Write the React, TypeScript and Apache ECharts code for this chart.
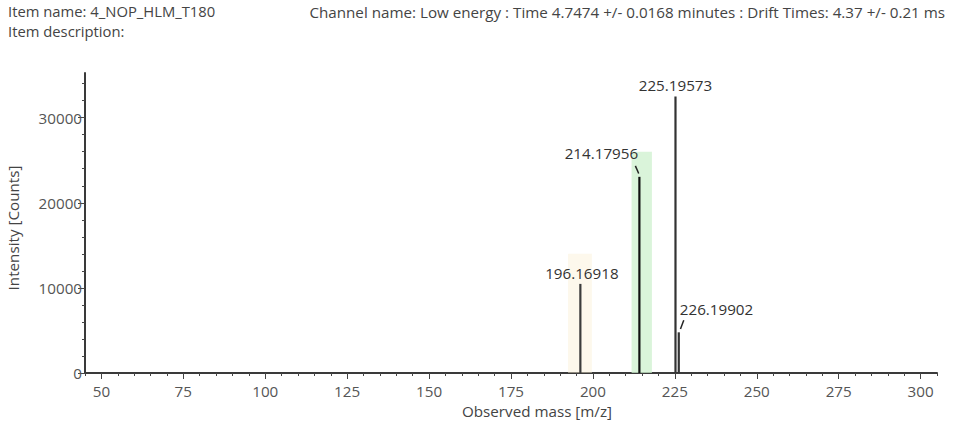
import React, { useEffect, useRef } from "react";
import * as echarts from "echarts";

const peakMz = [196.16918, 214.17956, 225.19573, 226.19902];
const peakIntensity = [10470, 23050, 32500, 4780];
const peakLabels = ["196.16918", "214.17956", "225.19573", "226.19902"];

const bandFrom = [192.4, 211.8];
const bandTo = [199.7, 218.0];
const bandTop = [14000, 26000];

const xMajorTicks = [50, 75, 100, 125, 150, 175, 200, 225, 250, 275, 300];
const xMinorTicks = [45, 55, 60, 65, 70, 80, 85, 90, 95, 105, 110, 115, 120, 130, 135, 140, 145, 155, 160, 165, 170, 180, 185, 190, 195, 205, 210, 215, 220, 230, 235, 240, 245, 255, 260, 265, 270, 280, 285, 290, 295, 305];
const yMajorTicks = [0, 10000, 20000, 30000];
const yMinorTicks = [2000, 4000, 6000, 8000, 12000, 14000, 16000, 18000, 22000, 24000, 26000, 28000, 32000, 34000];

const headerLeft1 = "Item name: 4_NOP_HLM_T180";
const headerLeft2 = "Item description:";
const headerRight = "Channel name: Low energy : Time 4.7474 +/- 0.0168 minutes : Drift Times: 4.37 +/- 0.21 ms";

const FONT = "Open Sans";
const FS = 15.2;
const HFS = 14.8;
const X_MIN = 45;
const X_MAX = 305;
const Y_MAX = 35250;

// label placement styles per peak
const labelStyle = [
  { dx: 1.5, dy: -11, align: "center", leader: null },
  { dx: -38, dy: -24, align: "center", leader: [-4, -11, -0.7, -3.4] },
  { dx: 0, dy: -11, align: "center", leader: null },
  { dx: 1, dy: -23, align: "left", leader: [5, -12, 1.7, -3.4] },
];
const barColors = ["#3c3c3c", "#111111", "#333333", "#333333"];
const bandColors = ["rgba(250,240,212,0.45)", "rgba(205,240,205,0.75)"];

export default function App() {
  const ref = useRef<HTMLDivElement>(null);
  useEffect(() => {
    if (!ref.current) return;
    const chart = echarts.init(ref.current, null, { renderer: "svg" });
    const peakData = peakMz.map((m, i) => [m, peakIntensity[i], i]);
    const bandData = bandFrom.map((f, i) => [f, bandTo[i], bandTop[i], i]);
    const axisCommon = {
      type: "value",
      min: X_MIN,
      max: X_MAX,
      splitLine: { show: false },
    };
    chart.setOption({
      animation: false,
      grid: { left: 85, right: 24, top: 73, bottom: 52, containLabel: false, outerBoundsMode: "none" },
      graphic: [
        { type: "text", left: 8, top: 3, style: { text: headerLeft1, font: `${HFS}px '${FONT}'`, fill: "#444" } },
        { type: "text", left: 8, top: 23, style: { text: headerLeft2, font: `${HFS}px '${FONT}'`, fill: "#444" } },
        { type: "text", right: 16, top: 4, style: { text: headerRight, font: `${FS}px '${FONT}'`, fill: "#444" } },
      ],
      xAxis: [
        {
          ...axisCommon,
          name: "Observed mass [m/z]",
          nameLocation: "middle",
          nameGap: 30,
          nameTextStyle: { fontFamily: FONT, fontSize: FS, color: "#444", padding: [0, 0, 0, 52] },
          axisLine: { show: true, onZero: false, lineStyle: { color: "#3a3a3a", width: 2 } },
          axisTick: { show: true, customValues: xMajorTicks, length: 6, inside: false, lineStyle: { color: "#444", width: 1 } },
          axisLabel: { customValues: xMajorTicks, margin: 10, fontFamily: FONT, fontSize: FS, color: "#555" },
        },
        {
          ...axisCommon,
          position: "bottom",
          axisLine: { show: false },
          axisTick: { show: true, customValues: xMinorTicks, length: 3, lineStyle: { color: "#444", width: 1 } },
          axisLabel: { show: false },
        },
      ],
      yAxis: [
        {
          type: "value",
          min: 0,
          max: Y_MAX,
          name: "Intensity [Counts]",
          nameLocation: "middle",
          nameGap: 65,
          nameTextStyle: { fontFamily: FONT, fontSize: FS, color: "#444", padding: [0, 10, 0, 0] },
          splitLine: { show: false },
          axisLine: { show: true, onZero: false, lineStyle: { color: "#3a3a3a", width: 2 } },
          axisTick: { show: true, customValues: yMajorTicks, length: 7, lineStyle: { color: "#444", width: 1 } },
          axisLabel: {
            customValues: yMajorTicks,
            margin: 3,
            fontFamily: FONT,
            fontSize: FS,
            color: "#555",
            formatter: (v: number) => String(v),
          },
        },
        {
          type: "value",
          min: 0,
          max: Y_MAX,
          position: "left",
          splitLine: { show: false },
          axisLine: { show: false },
          axisTick: { show: true, customValues: yMinorTicks, length: 3, lineStyle: { color: "#444", width: 1 } },
          axisLabel: { show: false },
        },
      ],
      series: [
        {
          type: "custom",
          xAxisIndex: 0,
          yAxisIndex: 0,
          data: bandData,
          silent: true,
          z: 1,
          renderItem: (params: any, api: any) => {
            const p0 = api.coord([api.value(0), api.value(2)]);
            const p1 = api.coord([api.value(1), 0]);
            const i = api.value(3);
            return {
              type: "rect",
              shape: { x: p0[0], y: p0[1], width: p1[0] - p0[0], height: p1[1] - p0[1] },
              style: { fill: bandColors[i] },
            };
          },
        },
        {
          type: "custom",
          xAxisIndex: 0,
          yAxisIndex: 0,
          data: peakData,
          z: 3,
          renderItem: (params: any, api: any) => {
            const top = api.coord([api.value(0), api.value(1)]);
            const base = api.coord([api.value(0), 0]);
            const i = api.value(2);
            const ls = labelStyle[i];
            const children: any[] = [
              {
                type: "line",
                shape: { x1: base[0], y1: base[1], x2: top[0], y2: top[1] },
                style: { stroke: barColors[i], lineWidth: 2.2 },
              },
              {
                type: "text",
                x: top[0] + ls.dx,
                y: top[1] + ls.dy,
                style: {
                  text: peakLabels[i],
                  font: `${FS}px '${FONT}'`,
                  fill: "#333",
                  align: ls.align,
                  verticalAlign: "middle",
                },
              },
            ];
            if (ls.leader) {
              children.push({
                type: "line",
                shape: {
                  x1: top[0] + ls.leader[0],
                  y1: top[1] + ls.leader[1],
                  x2: top[0] + ls.leader[2],
                  y2: top[1] + ls.leader[3],
                },
                style: { stroke: "#222", lineWidth: 1.5 },
              });
            }
            return { type: "group", children };
          },
        },
      ],
    });
    return () => chart.dispose();
  }, []);
  return (
    <div
      ref={ref}
      style={{ position: "fixed", left: 0, top: 0, width: 961, height: 425, background: "#fff" }}
    />
  );
}
